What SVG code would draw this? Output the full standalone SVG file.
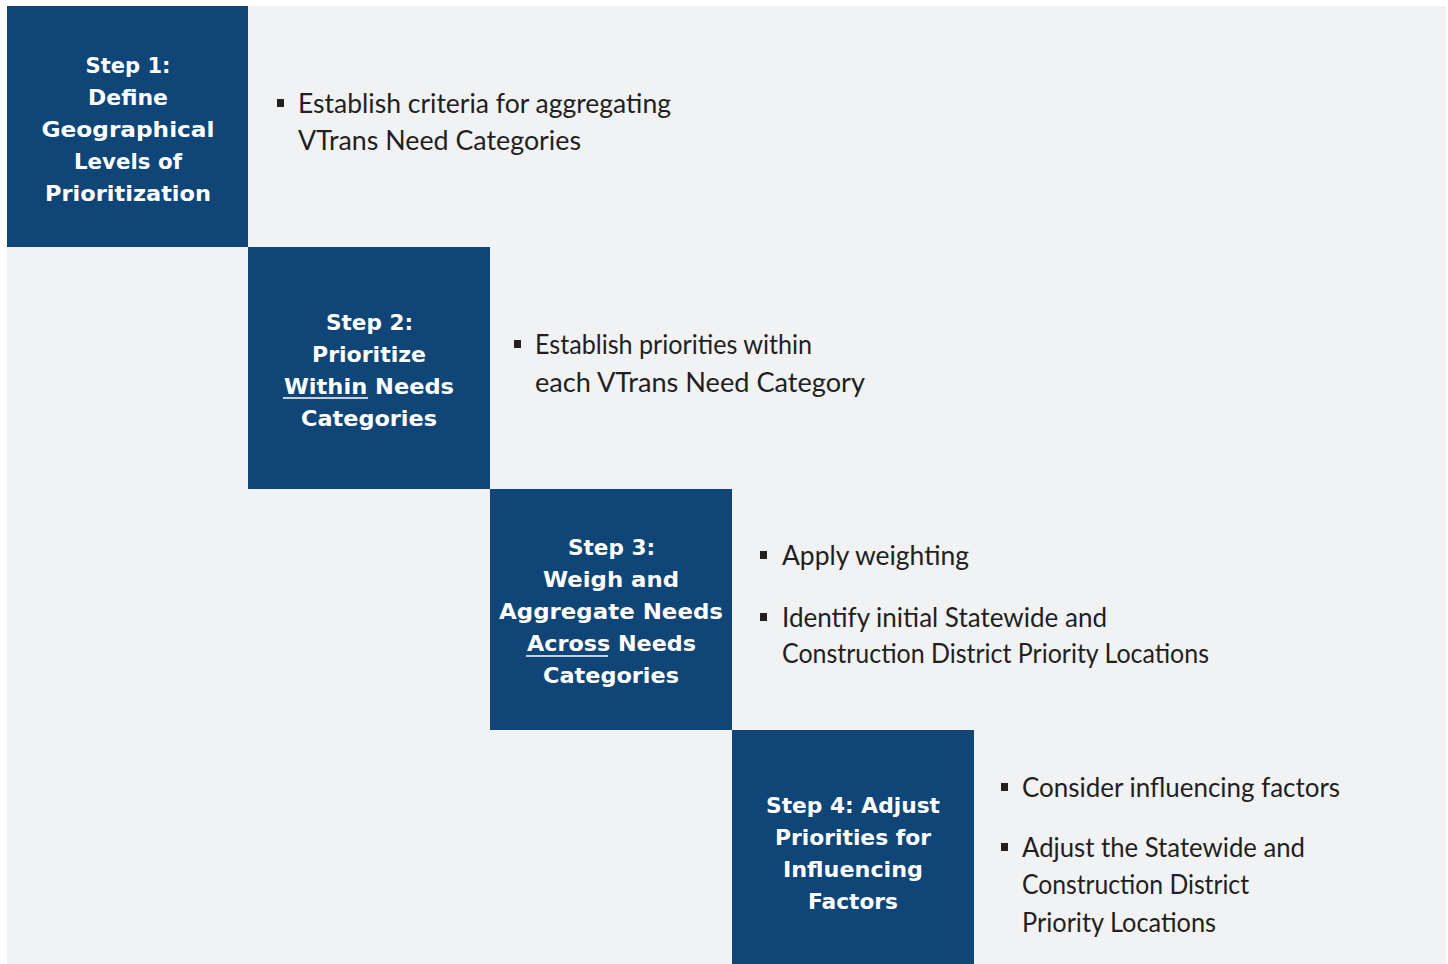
<svg xmlns="http://www.w3.org/2000/svg" width="1448" height="964" viewBox="0 0 1448 964">
<style>
.box{fill:#0f4677}
.title{font-family:"DejaVu Sans","Liberation Sans",sans-serif;font-weight:700;font-size:22px;fill:#ffffff;text-anchor:middle}
.body{font-family:Lato,"Liberation Sans",sans-serif;font-weight:400;font-size:26px;fill:#231f20}
.bullet{fill:#231f20}
.ul{stroke:#ffffff;stroke-width:1.6}
</style>
<rect x="0" y="0" width="1448" height="964" fill="#ffffff"/>
<rect x="7" y="6" width="1439" height="958" fill="#f1f2f4"/>
<g id="connectors"></g>
<g id="step1">
<rect class="box" x="7" y="6" width="241" height="241"/>
<text class="title" x="128" y="73" textLength="85" lengthAdjust="spacingAndGlyphs">Step 1:</text>
<text class="title" x="128" y="105" textLength="80" lengthAdjust="spacingAndGlyphs">Define</text>
<text class="title" x="128" y="137" textLength="173" lengthAdjust="spacingAndGlyphs">Geographical</text>
<text class="title" x="128" y="169" textLength="108" lengthAdjust="spacingAndGlyphs">Levels of</text>
<text class="title" x="128" y="201" textLength="166" lengthAdjust="spacingAndGlyphs">Prioritization</text>
</g>
<g id="step1-text">
<rect class="bullet" x="277" y="99" width="7" height="8"/>
<text class="body" x="298" y="113" textLength="373" lengthAdjust="spacingAndGlyphs">Establish criteria for aggregating</text>
<text class="body" x="298" y="150" textLength="283" lengthAdjust="spacingAndGlyphs">VTrans Need Categories</text>
</g>
<g id="step2">
<rect class="box" x="248" y="247" width="242" height="242"/>
<text class="title" x="369.5" y="330" textLength="87" lengthAdjust="spacingAndGlyphs">Step 2:</text>
<text class="title" x="369" y="362" textLength="114" lengthAdjust="spacingAndGlyphs">Prioritize</text>
<text class="title" x="369" y="394" textLength="170" lengthAdjust="spacingAndGlyphs">Within Needs</text>
<text class="title" x="369" y="426" textLength="136" lengthAdjust="spacingAndGlyphs">Categories</text>
<line class="ul" x1="283" y1="398" x2="368" y2="398"/>
</g>
<g id="step2-text">
<rect class="bullet" x="514" y="340" width="7" height="8"/>
<text class="body" x="535" y="354" textLength="277" lengthAdjust="spacingAndGlyphs">Establish priorities within</text>
<text class="body" x="535" y="392" textLength="330" lengthAdjust="spacingAndGlyphs">each VTrans Need Category</text>
</g>
<g id="step3">
<rect class="box" x="490" y="489" width="242" height="241"/>
<text class="title" x="611.5" y="555" textLength="87" lengthAdjust="spacingAndGlyphs">Step 3:</text>
<text class="title" x="611" y="587" textLength="136" lengthAdjust="spacingAndGlyphs">Weigh and</text>
<text class="title" x="611" y="619" textLength="224" lengthAdjust="spacingAndGlyphs">Aggregate Needs</text>
<text class="title" x="611.5" y="651" textLength="169" lengthAdjust="spacingAndGlyphs">Across Needs</text>
<text class="title" x="611" y="683" textLength="136" lengthAdjust="spacingAndGlyphs">Categories</text>
<line class="ul" x1="526" y1="656" x2="608" y2="656"/>
</g>
<g id="step3-text">
<rect class="bullet" x="760" y="551" width="7" height="8"/>
<text class="body" x="782" y="565" textLength="187" lengthAdjust="spacingAndGlyphs">Apply weighting</text>
<rect class="bullet" x="760" y="613" width="7" height="8"/>
<text class="body" x="782" y="627" textLength="325" lengthAdjust="spacingAndGlyphs">Identify initial Statewide and</text>
<text class="body" x="782" y="663" textLength="427" lengthAdjust="spacingAndGlyphs">Construction District Priority Locations</text>
</g>
<g id="step4">
<rect class="box" x="732" y="730" width="242" height="234"/>
<text class="title" x="853" y="813" textLength="174" lengthAdjust="spacingAndGlyphs">Step 4: Adjust</text>
<text class="title" x="853" y="845" textLength="156" lengthAdjust="spacingAndGlyphs">Priorities for</text>
<text class="title" x="853" y="877" textLength="140" lengthAdjust="spacingAndGlyphs">Influencing</text>
<text class="title" x="853" y="909" textLength="90" lengthAdjust="spacingAndGlyphs">Factors</text>
</g>
<g id="step4-text">
<rect class="bullet" x="1001" y="783" width="7" height="8"/>
<text class="body" x="1022" y="797" textLength="318" lengthAdjust="spacingAndGlyphs">Consider influencing factors</text>
<rect class="bullet" x="1001" y="843" width="7" height="8"/>
<text class="body" x="1022" y="857" textLength="283" lengthAdjust="spacingAndGlyphs">Adjust the Statewide and</text>
<text class="body" x="1022" y="894" textLength="227" lengthAdjust="spacingAndGlyphs">Construction District</text>
<text class="body" x="1022" y="932" textLength="194" lengthAdjust="spacingAndGlyphs">Priority Locations</text>
</g>
</svg>
